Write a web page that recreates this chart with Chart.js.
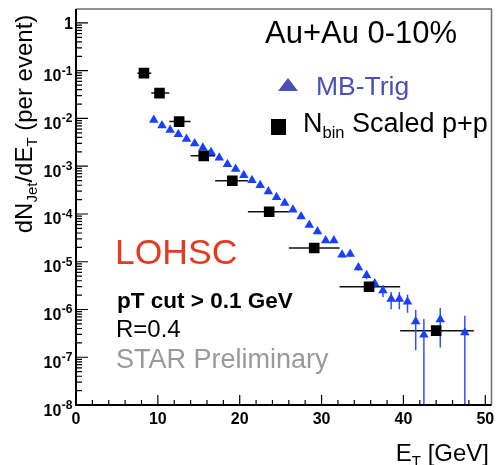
<!DOCTYPE html>
<html>
<head>
<meta charset="utf-8">
<script src="https://cdn.jsdelivr.net/npm/chart.js@4/dist/chart.umd.min.js"></script>
<style>
  body { margin: 0; background: #fff; }
  #wrap { width: 499px; height: 465px; }
</style>
</head>
<body>
<div id="wrap"><canvas id="spectrum" width="499" height="465"></canvas></div>
<script>
// MB-Trig Au+Au 0-10% (blue triangles), 1 GeV bins
var trigEt = [9.5, 10.5, 11.5, 12.5, 13.5, 14.5, 15.5, 16.5, 17.5, 18.5, 19.5, 20.5, 21.5, 22.5, 23.5, 24.5, 25.5, 26.5, 27.5, 28.5, 29.5, 30.5, 31.5, 32.5, 33.5, 34.5, 35.5, 36.5, 37.5, 38.5, 39.5, 40.5, 41.5, 42.5, 44.5, 47.5];
var trigVal = [9.3e-3, 7.1e-3, 5.75e-3, 4.7e-3, 3.7e-3, 3.0e-3, 2.45e-3, 1.95e-3, 1.5e-3, 1.1e-3, 8.7e-4, 6.5e-4, 5.1e-4, 4.0e-4, 2.95e-4, 2.25e-4, 1.7e-4, 1.23e-4, 8.9e-5, 5.9e-5, 4.3e-5, 2.8e-5, 2.8e-5, 1.4e-5, 1.45e-5, 7.6e-6, 5.2e-6, 3.5e-6, 2.5e-6, 1.66e-6, 1.66e-6, 1.45e-6, 5.6e-7, 2.95e-7, 6.2e-7, 3.3e-7];
var trigErr = [2e-4, 2e-4, 2e-4, 2e-4, 2e-4, 1.5e-4, 1.2e-4, 1e-4, 8e-5, 6e-5, 5e-5, 4e-5, 3e-5, 2.5e-5, 2e-5, 1.5e-5, 1.2e-5, 9e-6, 7e-6, 5e-6, 4e-6, 3e-6, 3e-6, 1.8e-6, 1.8e-6, 1.1e-6, 9e-7, 7e-7, 7e-7, 6.5e-7, 6.5e-7, 6e-7, 4.2e-7, 3.4e-7, 4.6e-7, 4.1e-7];

// Nbin scaled p+p (black squares), variable bins
var ppEt = [8.3, 10.2, 12.6, 15.6, 19.1, 23.6, 29.1, 35.8, 44.0];
var ppVal = [0.089, 0.034, 0.0086, 1.65e-3, 4.95e-4, 1.11e-4, 1.94e-5, 3.0e-6, 3.6e-7];
var ppLo = [7.5, 9.2, 11.4, 14.0, 17.0, 21.0, 26.0, 32.2, 39.6];
var ppHi = [9.2, 11.4, 14.0, 17.0, 21.0, 26.0, 32.2, 39.6, 48.6];

// axes
var xMin = 0, xMax = 50.76;
var yMin = 1e-8, yMax = 1.96;
var xMajor = [0, 10, 20, 30, 40, 50];
var yDecades = [0, -1, -2, -3, -4, -5, -6, -7, -8];

var FONT = "'Liberation Sans', Arial, Helvetica, sans-serif";

function verticalBars(xs, ys, errs) {
    var pts = [];
    for (var i = 0; i < xs.length; i++) {
        var lo = ys[i] - errs[i];
        if (lo <= 0) lo = yMin / 10;
        pts.push({ x: xs[i], y: lo }, { x: xs[i], y: ys[i] + errs[i] }, { x: xs[i], y: null });
    }
    return pts;
}

function horizontalBars(lo, hi, ys) {
    var pts = [];
    for (var i = 0; i < ys.length; i++) {
        pts.push({ x: lo[i], y: ys[i] }, { x: hi[i], y: ys[i] }, { x: hi[i], y: null });
    }
    return pts;
}

function drawRuns(ctx, runs, x, y, align) {
    var total = 0;
    runs.forEach(function (r) { ctx.font = r[1]; total += ctx.measureText(r[0]).width; });
    var cx = x;
    if (align === 'center') cx = x - total / 2;
    if (align === 'right') cx = x - total;
    ctx.textAlign = 'left';
    runs.forEach(function (r) {
        ctx.font = r[1];
        ctx.fillText(r[0], cx, y + (r[2] || 0));
        cx += ctx.measureText(r[0]).width;
    });
}

var decor = {
    id: 'decor',
    afterDraw: function (chart) {
        var ctx = chart.ctx, a = chart.chartArea;
        var xs = chart.scales.x, ys = chart.scales.y;
        ctx.save();

        // frame
        ctx.strokeStyle = '#6e6e6e';
        ctx.lineWidth = 1.5;
        ctx.beginPath();
        ctx.moveTo(a.left, a.top); ctx.lineTo(a.right, a.top); ctx.lineTo(a.right, a.bottom);
        ctx.stroke();
        ctx.strokeStyle = '#000';
        ctx.lineWidth = 2;
        ctx.beginPath();
        ctx.moveTo(a.left, a.top); ctx.lineTo(a.left, a.bottom); ctx.lineTo(a.right, a.bottom);
        ctx.stroke();

        // y ticks (log, inward)
        ctx.lineWidth = 1.2;
        ctx.beginPath();
        for (var k = -8; k <= 0; k++) {
            for (var m = 1; m <= 9; m++) {
                var v = m * Math.pow(10, k);
                if (v > yMax || v < yMin) continue;
                var py = ys.getPixelForValue(v);
                ctx.moveTo(a.left, py);
                ctx.lineTo(a.left + (m === 1 ? 12 : 6), py);
            }
        }
        // x ticks (every 2, inward)
        for (var t = 0; t <= 50; t += 2) {
            var px = xs.getPixelForValue(t);
            ctx.moveTo(px, a.bottom);
            ctx.lineTo(px, a.bottom - (t % 10 === 0 ? 10 : 5));
        }
        ctx.stroke();

        // y tick labels with superscripts
        ctx.fillStyle = '#000';
        ctx.textBaseline = 'alphabetic';
        yDecades.forEach(function (d) {
            var py = ys.getPixelForValue(Math.pow(10, d));
            if (d === 0) {
                drawRuns(ctx, [['1', 'bold 16px ' + FONT]], 73, py + 6, 'right');
            } else {
                ctx.font = 'bold 12px ' + FONT;
                var sup = '-' + (-d);
                var sw = ctx.measureText(sup).width;
                drawRuns(ctx, [[sup, 'bold 12px ' + FONT]], 72.5, py + 4, 'right');
                drawRuns(ctx, [['10', 'bold 16px ' + FONT]], 72 - sw, py + 10.5, 'right');
            }
        });

        // y title
        ctx.save();
        ctx.translate(32, 124);
        ctx.rotate(-Math.PI / 2);
        drawRuns(ctx, [
            ['dN', '24px ' + FONT],
            ['Jet', '15px ' + FONT, 5],
            ['/dE', '24px ' + FONT],
            ['T', '15px ' + FONT, 5],
            [' (per event)', '24px ' + FONT]
        ], 0, 0, 'center');
        ctx.restore();

        // x title
        drawRuns(ctx, [
            ['E', '24px ' + FONT],
            ['T', '15px ' + FONT, 5],
            [' [GeV]', '24px ' + FONT]
        ], 489, 461, 'right');

        // header and legend
        drawRuns(ctx, [['Au+Au 0-10%', '31px ' + FONT]], 265, 43, 'left');

        ctx.fillStyle = '#4b50b4';
        ctx.beginPath();
        ctx.moveTo(288, 78); ctx.lineTo(298, 91); ctx.lineTo(278, 91);
        ctx.closePath(); ctx.fill();
        drawRuns(ctx, [['MB-Trig', '26.5px ' + FONT]], 316, 95, 'left');

        ctx.fillStyle = '#000';
        ctx.fillRect(271, 119, 15, 16);
        drawRuns(ctx, [
            ['N', '27px ' + FONT],
            ['bin', '16.5px ' + FONT, 6],
            [' Scaled p+p', '27px ' + FONT]
        ], 303, 132, 'left');

        // labels
        ctx.fillStyle = '#e8391f';
        drawRuns(ctx, [['LOHSC', '35.5px ' + FONT]], 115, 264, 'left');
        ctx.fillStyle = '#000';
        drawRuns(ctx, [['pT cut > 0.1 GeV', 'bold 22.5px ' + FONT]], 117, 308, 'left');
        drawRuns(ctx, [['R=0.4', '24px ' + FONT]], 116, 337, 'left');
        ctx.fillStyle = '#999999';
        drawRuns(ctx, [['STAR Preliminary', '27px ' + FONT]], 116, 368, 'left');

        ctx.restore();
    }
};

new Chart('spectrum', {
    type: 'scatter',
    data: {
        datasets: [{
            label: 'pp x errors',
            data: horizontalBars(ppLo, ppHi, ppVal),
            showLine: true,
            spanGaps: false,
            borderColor: '#111',
            borderWidth: 1.5,
            pointRadius: 0,
            order: 4
        }, {
            label: 'trig y errors',
            data: verticalBars(trigEt, trigVal, trigErr),
            showLine: true,
            spanGaps: false,
            borderColor: '#2f52ff',
            borderWidth: 1.5,
            pointRadius: 0,
            order: 3
        }, {
            label: 'MB-Trig',
            data: trigEt.map(function (x, i) { return { x: x, y: trigVal[i] }; }),
            pointStyle: 'triangle',
            pointRadius: 5.5,
            backgroundColor: '#1a40ff',
            borderColor: '#1a40ff',
            borderWidth: 0,
            order: 2
        }, {
            label: 'Nbin Scaled p+p',
            data: ppEt.map(function (x, i) { return { x: x, y: ppVal[i] }; }),
            pointStyle: 'rect',
            pointRadius: 7.5,
            backgroundColor: '#000',
            borderColor: '#000',
            borderWidth: 0,
            order: 1
        }]
    },
    options: {
        responsive: false,
        animation: false,
        layout: { padding: { top: 9, right: 1, left: 0, bottom: 0 } },
        plugins: { legend: { display: false }, tooltip: { enabled: false } },
        scales: {
            x: {
                type: 'linear',
                min: xMin,
                max: xMax,
                grid: { display: false, drawTicks: false },
                border: { display: false },
                ticks: {
                    stepSize: 10,
                    color: '#000',
                    padding: 5,
                    maxRotation: 0,
                    font: { family: FONT, weight: 'bold', size: 16 }
                },
                afterBuildTicks: function (s) { s.ticks = xMajor.map(function (v) { return { value: v }; }); },
                afterFit: function (s) { s.height = 60; s.paddingLeft = 0; s.paddingRight = 0; }
            },
            y: {
                type: 'logarithmic',
                min: yMin,
                max: yMax,
                grid: { display: false, drawTicks: false },
                border: { display: false },
                ticks: { display: false },
                afterFit: function (s) { s.width = 76; }
            }
        }
    },
    plugins: [decor]
});
</script>
</body>
</html>
